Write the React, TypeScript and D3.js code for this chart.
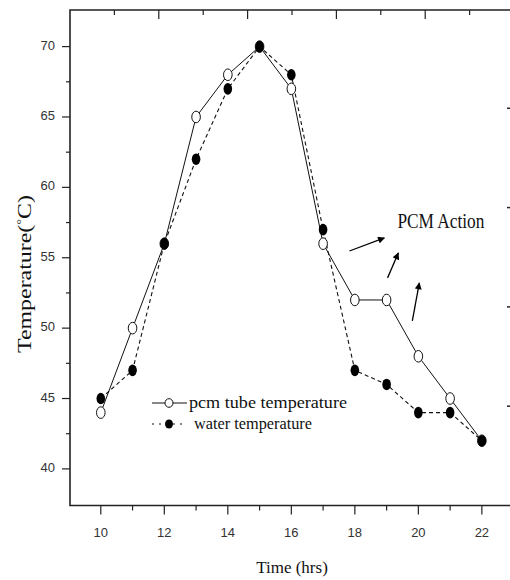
import React, { useEffect, useRef } from "react";
import * as d3 from "d3";

// hours on the x axis
const hours = [10, 11, 12, 13, 14, 15, 16, 17, 18, 19, 20, 21, 22];
// pcm tube temperature (open circles, solid line)
const pcmTube = [44, 50, 56, 65, 68, 70, 67, 56, 52, 52, 48, 45, 42];
// water temperature (filled circles, dashed line)
const water = [45, 47, 56, 62, 67, 70, 68, 57, 47, 46, 44, 44, 42];

const xTicks = [10, 12, 14, 16, 18, 20, 22];
const yTicks = [40, 45, 50, 55, 60, 65, 70];

// "PCM Action" arrows, in data units [x1, y1, x2, y2]
const arrows = [
  [17.83, 55.48, 18.93, 56.41],
  [19.03, 53.57, 19.37, 55.34],
  [19.81, 50.51, 20.03, 53.21],
];
const annotationAt = [19.34, 57.12];

const legendLabels = ["pcm tube temperature", "water temperature"];

export default function App() {
  const ref = useRef<SVGSVGElement>(null);

  useEffect(() => {
    const width = 510;
    const height = 580;
    const left = 70, top = 10, bottom = 505.5, right = 510;

    const svg = d3.select(ref.current);
    svg.selectAll("*").remove();

    const x = d3.scaleLinear().domain([9.03, 22.87]).range([left, right - 0.5]);
    const y = d3.scaleLinear().domain([37.4, 72.6]).range([bottom, top]);
    // the top and right frame ticks in the original don't line up with the data axes
    const xMirror = d3.scaleLinear().domain([9, 23]).range([left, left + 14 * 44.4]);
    const yMirror = d3.scaleLinear().domain([37.4, 72.6]).range([7 + 35.2 * 19.86, 7]);

    const axisColor = "#222";
    const frame = svg.append("g").attr("stroke", axisColor).attr("stroke-width", 1.6).attr("fill", "none");
    frame.append("path").attr("d", `M${right},${top}H${left}V${bottom}H${right}`);

    // left ticks
    const yMinor = d3.range(40, 72, 2.5);
    frame.selectAll(".yt").data(yMinor).join("line")
      .attr("x1", left).attr("x2", d => (d % 5 === 0 ? left - 8 : left - 4))
      .attr("y1", d => y(d)).attr("y2", d => y(d)).attr("stroke-width", 1.2);
    // bottom ticks
    const xMinor = d3.range(10, 23, 1);
    frame.selectAll(".xt").data(xMinor).join("line")
      .attr("y1", bottom).attr("y2", d => (d % 2 === 0 ? bottom + 9 : bottom + 5))
      .attr("x1", d => x(d)).attr("x2", d => x(d)).attr("stroke-width", 1.2);
    // top ticks (inward)
    frame.selectAll(".tt").data(d3.range(10, 19, 1)).join("line")
      .attr("y1", top).attr("y2", d => (d % 2 === 1 ? top + 9 : top + 5))
      .attr("x1", d => xMirror(d)).attr("x2", d => xMirror(d)).attr("stroke-width", 1.2);
    // right ticks
    frame.selectAll(".rt").data([67.5, 62.5, 57.5, 52.5]).join("line")
      .attr("x1", right - 3).attr("x2", right)
      .attr("y1", d => yMirror(d)).attr("y2", d => yMirror(d)).attr("stroke-width", 1.5);

    const tickFont = "'Liberation Sans', Arial, sans-serif";
    svg.append("g").selectAll("text").data(yTicks).join("text")
      .attr("x", 55).attr("y", d => y(d) + 3)
      .attr("text-anchor", "end").attr("font-family", tickFont).attr("font-size", 13)
      .attr("fill", "#333").text(d => d);
    svg.append("g").selectAll("text").data(xTicks).join("text")
      .attr("x", d => x(d)).attr("y", 537)
      .attr("text-anchor", "middle").attr("font-family", tickFont).attr("font-size", 13)
      .attr("fill", "#333").text(d => d);

    const serif = "'Liberation Serif', 'Times New Roman', serif";
    svg.append("text").attr("x", 292).attr("y", 573).attr("text-anchor", "middle")
      .attr("font-family", serif).attr("font-size", 17).attr("fill", "#111").text("Time (hrs)");

    const yTitle = svg.append("text")
      .attr("transform", "translate(31,274) rotate(-90)")
      .attr("text-anchor", "middle").attr("font-family", serif).attr("font-size", 18)
      .attr("fill", "#111").attr("textLength", 158).attr("lengthAdjust", "spacingAndGlyphs");
    yTitle.append("tspan").text("Temperature(");
    yTitle.append("tspan").attr("font-size", 11).attr("dy", -6).text("°");
    yTitle.append("tspan").attr("dy", 6).text("C)");

    const pts = hours.map((h, i) => ({ h, p: pcmTube[i], w: water[i] }));

    const pcmLine = d3.line<{ h: number; p: number; w: number }>().x(d => x(d.h)).y(d => y(d.p));
    const waterLine = d3.line<{ h: number; p: number; w: number }>().x(d => x(d.h)).y(d => y(d.w));

    svg.append("path").datum(pts).attr("d", pcmLine).attr("fill", "none")
      .attr("stroke", "#111").attr("stroke-width", 1);
    svg.append("path").datum(pts).attr("d", waterLine).attr("fill", "none")
      .attr("stroke", "#111").attr("stroke-width", 1.1).attr("stroke-dasharray", "4,3");

    svg.append("g").selectAll("ellipse").data(pts).join("ellipse")
      .attr("cx", d => x(d.h)).attr("cy", d => y(d.p)).attr("rx", 4.3).attr("ry", 5.8)
      .attr("fill", "#fff").attr("stroke", "#111").attr("stroke-width", 1);
    svg.append("g").selectAll("ellipse").data(pts).join("ellipse")
      .attr("cx", d => x(d.h)).attr("cy", d => y(d.w)).attr("rx", 4.3).attr("ry", 5.8)
      .attr("fill", "#000");

    // annotation
    svg.append("defs").append("marker").attr("id", "head")
      .attr("viewBox", "0 0 10 10").attr("refX", 9).attr("refY", 5)
      .attr("markerWidth", 9).attr("markerHeight", 7).attr("markerUnits", "userSpaceOnUse")
      .attr("orient", "auto")
      .append("path").attr("d", "M0,0L10,5L0,10Z").attr("fill", "#000");
    svg.append("g").selectAll("line").data(arrows).join("line")
      .attr("x1", d => x(d[0])).attr("y1", d => y(d[1]))
      .attr("x2", d => x(d[2])).attr("y2", d => y(d[3]))
      .attr("stroke", "#000").attr("stroke-width", 1.3).attr("marker-end", "url(#head)");
    svg.append("text").attr("x", x(annotationAt[0])).attr("y", y(annotationAt[1]))
      .attr("font-family", serif).attr("font-size", 20).attr("fill", "#111")
      .attr("textLength", 87).attr("lengthAdjust", "spacingAndGlyphs").text("PCM Action");

    // legend
    const lg = svg.append("g");
    const rows = [403, 424];
    const legendX = [189, 194];
    const legendW = [158, 118];
    lg.append("line").attr("x1", 152).attr("x2", 187).attr("y1", rows[0]).attr("y2", rows[0])
      .attr("stroke", "#111").attr("stroke-width", 1);
    lg.append("line").attr("x1", 152).attr("x2", 187).attr("y1", rows[1]).attr("y2", rows[1])
      .attr("stroke", "#111").attr("stroke-width", 1.1).attr("stroke-dasharray", "2,5");
    lg.append("ellipse").attr("cx", 169).attr("cy", rows[0]).attr("rx", 4).attr("ry", 4.3)
      .attr("fill", "#fff").attr("stroke", "#111");
    lg.append("ellipse").attr("cx", 169).attr("cy", rows[1]).attr("rx", 4).attr("ry", 4.6)
      .attr("fill", "#000");
    lg.selectAll("text").data(legendLabels).join("text")
      .attr("x", (d, i) => legendX[i]).attr("y", (d, i) => rows[i] + 5)
      .attr("font-family", serif).attr("font-size", 17).attr("fill", "#111")
      .attr("textLength", (d, i) => legendW[i]).attr("lengthAdjust", "spacingAndGlyphs")
      .text(d => d);

    svg.attr("width", width).attr("height", height);
  }, []);

  return (
    <svg
      ref={ref}
      width={510}
      height={580}
      style={{ position: "absolute", left: 0, top: 0, background: "#fff" }}
    />
  );
}
